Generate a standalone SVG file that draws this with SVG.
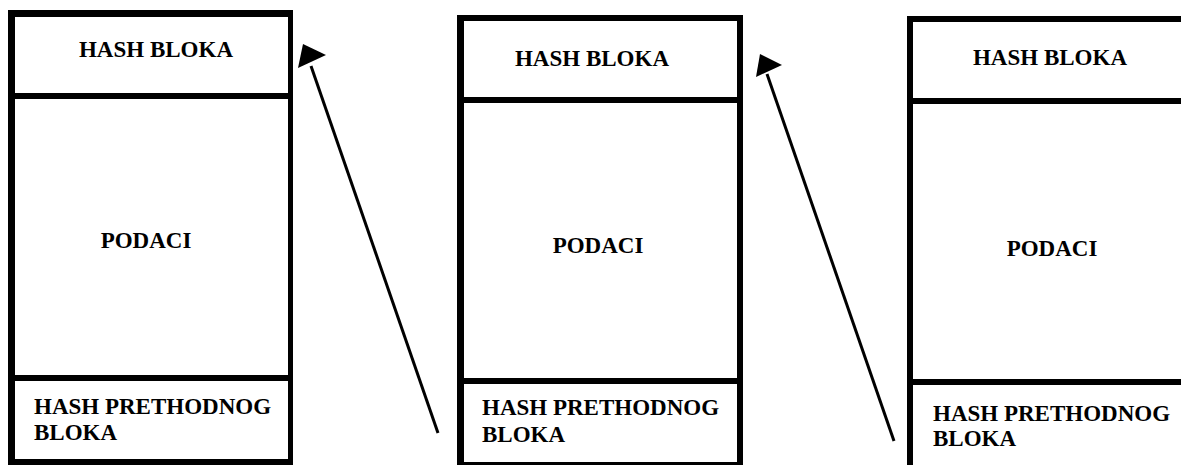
<svg xmlns="http://www.w3.org/2000/svg" width="1181" height="465" viewBox="0 0 1181 465">
<style>
.b{fill:#000}
text{font-family:'Liberation Serif','Times New Roman',serif;font-weight:bold;font-size:23px;fill:#000}
.m{text-anchor:middle}
.ln{stroke:#000;stroke-width:3;fill:none}
.hd{fill:#000}
</style>
<rect x="0" y="0" width="1181" height="465" fill="#fff"/>
<g id="block1">
<rect class="b" x="8" y="10" width="7" height="455"/>
<rect class="b" x="8" y="10" width="285" height="7"/>
<rect class="b" x="288" y="10" width="5" height="455"/>
<rect class="b" x="8" y="93" width="285" height="6"/>
<rect class="b" x="8" y="375" width="285" height="6"/>
<rect class="b" x="8" y="459" width="285" height="6"/>
<text class="m" x="156" y="57">HASH BLOKA</text>
<text class="m" x="146" y="248">PODACI</text>
<text x="34" y="414">HASH PRETHODNOG</text>
<text x="34" y="440">BLOKA</text>
</g>
<g id="block2">
<rect class="b" x="457" y="15" width="7" height="450"/>
<rect class="b" x="457" y="15" width="286" height="6"/>
<rect class="b" x="737" y="15" width="6" height="450"/>
<rect class="b" x="457" y="97" width="286" height="6"/>
<rect class="b" x="457" y="378" width="286" height="6"/>
<rect class="b" x="457" y="462" width="286" height="3"/>
<text class="m" x="592" y="66">HASH BLOKA</text>
<text class="m" x="598" y="253">PODACI</text>
<text x="482" y="415">HASH PRETHODNOG</text>
<text x="482" y="442">BLOKA</text>
</g>
<g id="block3">
<rect class="b" x="907" y="16" width="6" height="449"/>
<rect class="b" x="907" y="16" width="274" height="6"/>
<rect class="b" x="907" y="98" width="274" height="6"/>
<rect class="b" x="907" y="379" width="274" height="6"/>
<text class="m" x="1050" y="65">HASH BLOKA</text>
<text class="m" x="1052" y="256">PODACI</text>
<text x="933" y="421">HASH PRETHODNOG</text>
<text x="933" y="446">BLOKA</text>
</g>
<g id="connectors">
<line class="ln" x1="438" y1="433" x2="311" y2="66"/>
<polygon class="hd" points="303,44 326,55 298,68"/>
<line class="ln" x1="894" y1="441" x2="767" y2="74"/>
<polygon class="hd" points="760,54 782,65 756,77"/>
</g>
</svg>
